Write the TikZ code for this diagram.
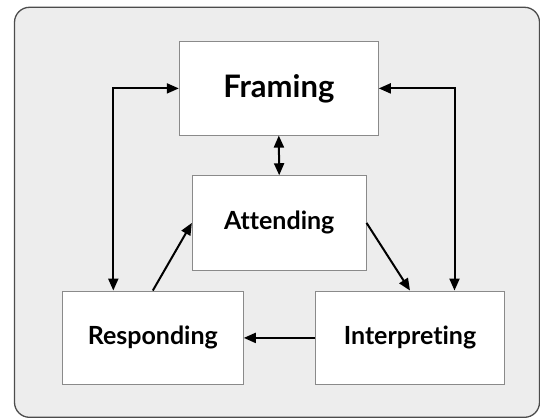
\documentclass[tikz,border=0pt]{standalone}
\usepackage{fontspec}
\setmainfont{Lato}[Ligatures={NoCommon,NoRequired,NoContextual}]
\usetikzlibrary{arrows.meta}
\definecolor{bgpanel}{HTML}{EDEDED}
\definecolor{panelborder}{HTML}{4C4C4C}
\definecolor{boxborder}{HTML}{8A8A8A}
\tikzset{
  stagebox/.style={draw=boxborder, line width=1pt, fill=white, rectangle, inner sep=0pt, font=\bfseries\fontsize{25}{28}\selectfont},
  flow/.style={line width=2pt, black, -{Triangle[length=12pt,width=10pt]}},
  flowboth/.style={line width=2pt, black, {Triangle[length=12pt,width=10pt]}-{Triangle[length=12pt,width=10pt]}}
}
\begin{document}
\begin{tikzpicture}[x=1pt,y=-1pt]
\useasboundingbox (0,0) rectangle (540,418);
\begin{scope}
\clip (0,0) rectangle (540,418);
\draw[panelborder, fill=bgpanel, line width=1.3pt, rounded corners=15pt] (14.5,7.3) rectangle (539.5,417.3);
\end{scope}
\node[stagebox, minimum width=199pt, minimum height=93.3pt, font=\bfseries\fontsize{31}{34}\selectfont] (F) at (278.8,88.4) {Framing};
\node[stagebox, minimum width=173.7pt, minimum height=94.3pt] (A) at (279.2,222.9) {Attending};
\node[stagebox, minimum width=181pt, minimum height=93.7pt] (R) at (152.8,337.9) {Responding};
\node[stagebox, minimum width=188.6pt, minimum height=93.7pt] (I) at (410,337.9) {Interpreting};
\draw[flowboth] (F.south) -- (A.north);
\draw[flow] (R.north) -- (A.west);
\draw[flow] (A.east) -- (I.north);
\draw[flow] (I.west) -- (R.east);
\draw[flowboth] (F.west) -| ([xshift=-39.5pt]R.north);
\draw[flowboth] (F.east) -| ([xshift=44.5pt]I.north);
\end{tikzpicture}
\end{document}
